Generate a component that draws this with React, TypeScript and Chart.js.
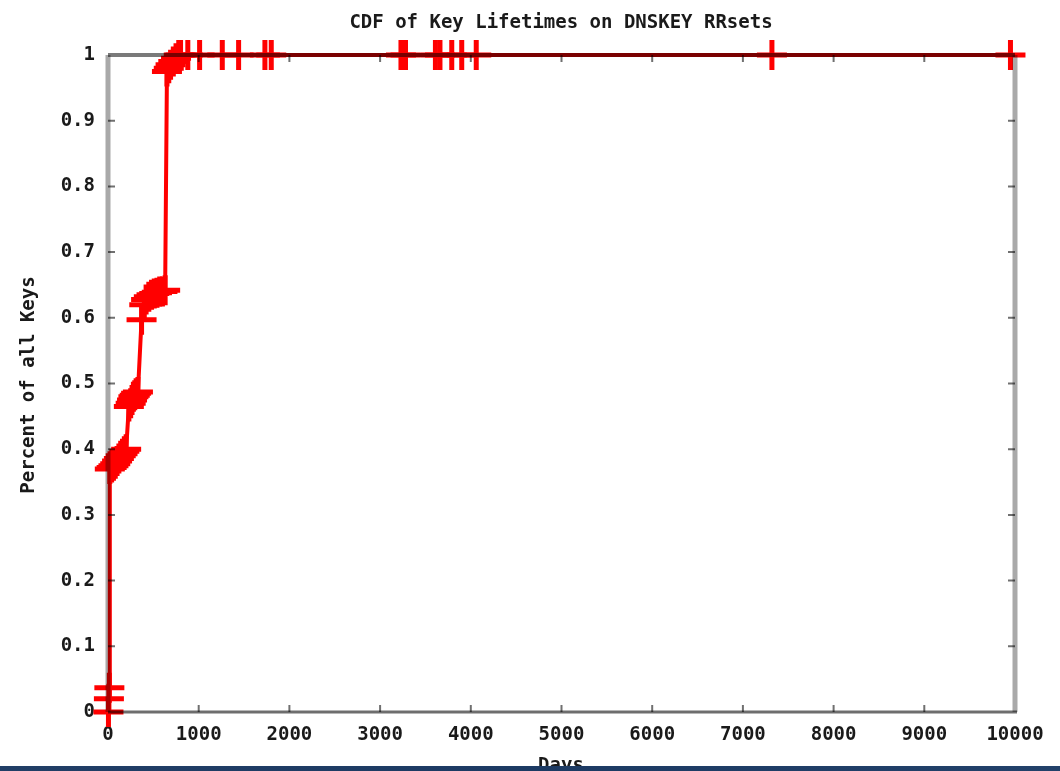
import React, { useEffect, useRef } from "react";
import { Chart, registerables } from "chart.js";

Chart.register(...registerables);

const TITLE = "CDF of Key Lifetimes on DNSKEY RRsets";
const X_TITLE = "Days";
const Y_TITLE = "Percent of all Keys";

const xDays = [
  5, 10, 15, 20, 40, 60, 80, 100, 120, 140,
  160, 180, 200, 230, 250, 265, 280, 295, 310, 330,
  370, 400, 420, 450, 480, 510, 540, 570, 600, 630,
  650, 670, 690, 720, 750, 780, 800, 880, 1010, 1260,
  1440, 1730, 1800, 3230, 3280, 3610, 3660, 3790, 3900, 4060,
  7320, 9950,
];
const yFrac = [
  0, 0.02, 0.037, 0.37, 0.372, 0.375, 0.378, 0.382, 0.386, 0.39,
  0.393, 0.397, 0.4, 0.465, 0.47, 0.475, 0.48, 0.482, 0.485, 0.487,
  0.597, 0.62, 0.628, 0.632, 0.635, 0.637, 0.638, 0.64, 0.64, 0.642,
  0.975, 0.98, 0.985, 0.99, 0.995, 1, 1, 1, 1, 1,
  1, 1, 1, 1, 1, 1, 1, 1, 1, 1,
  1, 1,
];
const xTicks = [0, 1000, 2000, 3000, 4000, 5000, 6000, 7000, 8000, 9000, 10000];
const yTicks = [0, 0.1, 0.2, 0.3, 0.4, 0.5, 0.6, 0.7, 0.8, 0.9, 1];

const FONT = '"DejaVu Sans Mono", "Liberation Mono", monospace';

const framePlugin = {
  id: "gnuFrame",
  afterDatasetsDraw(chart: any) {
    const { ctx, chartArea, scales } = chart;
    const { left, right, top, bottom } = chartArea;
    const xs = scales.x;
    const ys = scales.y;
    ctx.save();
    ctx.globalCompositeOperation = "multiply";
    // left & right borders
    ctx.fillStyle = "#a9a9a9";
    ctx.fillRect(left - 2.5, top, 5, bottom - top);
    ctx.fillRect(right - 2.5, top, 5, bottom - top);
    // top border
    ctx.fillStyle = "#7a7a7a";
    ctx.fillRect(left, top - 2, right - left, 4);
    // bottom border
    ctx.fillStyle = "#6e6e6e";
    ctx.fillRect(left, bottom - 1.5, right - left + 2, 3);
    // inner ticks
    ctx.strokeStyle = "#707070";
    ctx.lineWidth = 2;
    ctx.beginPath();
    for (const v of yTicks) {
      if (v === 0 || v === 1) continue;
      const py = ys.getPixelForValue(v);
      ctx.moveTo(left, py);
      ctx.lineTo(left + 7, py);
      ctx.moveTo(right, py);
      ctx.lineTo(right - 7, py);
    }
    for (const v of xTicks) {
      if (v === 0 || v === 10000) continue;
      const px = xs.getPixelForValue(v);
      ctx.moveTo(px, bottom);
      ctx.lineTo(px, bottom - 7);
      ctx.moveTo(px, top);
      ctx.lineTo(px, top + 7);
    }
    ctx.stroke();
    ctx.restore();

    // titles
    ctx.save();
    ctx.fillStyle = "#1a1a1a";
    ctx.font = `bold 19px ${FONT}`;
    ctx.textAlign = "center";
    ctx.textBaseline = "middle";
    ctx.fillText(TITLE, 561, 23);
    ctx.fillText(X_TITLE, 561, 766);
    ctx.translate(29, 385);
    ctx.rotate(-Math.PI / 2);
    ctx.fillText(Y_TITLE, 0, 0);
    ctx.restore();
  },
};

export default function App() {
  const ref = useRef<HTMLCanvasElement | null>(null);

  useEffect(() => {
    if (!ref.current) return;
    const points = xDays.map((x, i) => ({ x, y: yFrac[i] }));
    const chart = new Chart(ref.current, {
      type: "line",
      data: {
        datasets: [
          {
            data: points,
            borderColor: "#ff0000",
            backgroundColor: "#ff0000",
            borderWidth: 4,
            pointStyle: "cross",
            pointRadius: 15,
            pointBorderWidth: 5,
            pointBorderColor: "#ff0000",
            tension: 0,
            fill: false,
            clip: false as any,
          },
        ],
      },
      options: {
        animation: false,
        responsive: false,
        maintainAspectRatio: false,
        events: [],
        layout: { padding: { left: 0, right: 45, top: 55, bottom: 0 } },
        plugins: {
          legend: { display: false },
          title: { display: false },
          tooltip: { enabled: false },
        },
        scales: {
          x: {
            type: "linear",
            min: 0,
            max: 10000,
            afterFit: (s: any) => {
              s.height = 59;
            },
            afterBuildTicks: (s: any) => {
              s.ticks = xTicks.map((v) => ({ value: v }));
            },
            grid: { display: false, drawTicks: false },
            border: { display: false },
            ticks: {
              padding: 12,
              color: "#1a1a1a",
              font: { family: FONT, size: 19, weight: "bold" },
              maxRotation: 0,
              autoSkip: false,
              callback: (v: any) => String(v),
            },
          },
          y: {
            type: "linear",
            min: 0,
            max: 1,
            afterFit: (s: any) => {
              s.width = 108;
            },
            afterBuildTicks: (s: any) => {
              s.ticks = yTicks.map((v) => ({ value: v }));
            },
            grid: { display: false, drawTicks: false },
            border: { display: false },
            ticks: {
              padding: 13,
              color: "#1a1a1a",
              font: { family: FONT, size: 19, weight: "bold" },
              autoSkip: false,
              callback: (v: any) =>
                v === 0 ? "0" : v === 1 ? "1" : Number(v).toFixed(1),
            },
          },
        },
      },
      plugins: [framePlugin],
    });
    return () => chart.destroy();
  }, []);

  return (
    <div
      style={{
        position: "absolute",
        left: 0,
        top: 0,
        width: 1060,
        height: 771,
        background: "#ffffff",
        overflow: "hidden",
      }}
    >
      <canvas
        ref={ref}
        width={1060}
        height={771}
        style={{ width: 1060, height: 771, display: "block", filter: "blur(0.6px)" }}
      />
      <div
        style={{
          position: "absolute",
          left: 0,
          top: 766,
          width: 1060,
          height: 5,
          background: "linear-gradient(90deg, #213e66 0%, #1c3a63 50%, #22416a 100%)",
        }}
      />
    </div>
  );
}
